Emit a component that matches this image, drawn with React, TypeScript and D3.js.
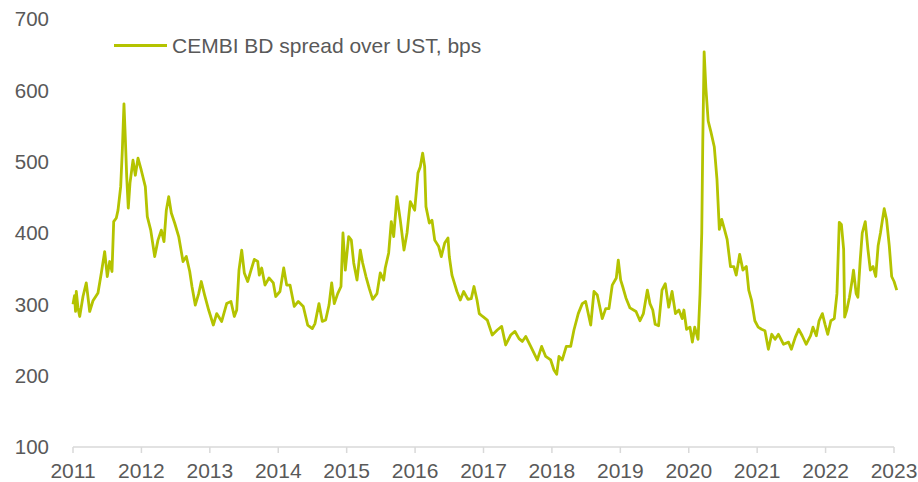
import * as d3 from 'd3'

// fractional years (2011.0 = start of 2011)
const dates = [
  2011.0, 2011.022, 2011.037, 2011.048, 2011.073, 2011.098, 2011.146, 2011.194, 2011.244, 2011.292,
  2011.365, 2011.414, 2011.463, 2011.501, 2011.536, 2011.57, 2011.595, 2011.633, 2011.658, 2011.697,
  2011.721, 2011.745, 2011.764, 2011.785, 2011.808, 2011.833, 2011.877, 2011.911, 2011.95, 2011.998,
  2012.057, 2012.086, 2012.136, 2012.194, 2012.242, 2012.291, 2012.33, 2012.364, 2012.399, 2012.437,
  2012.486, 2012.545, 2012.608, 2012.656, 2012.706, 2012.739, 2012.787, 2012.837, 2012.875, 2012.924,
  2012.983, 2013.051, 2013.1, 2013.173, 2013.246, 2013.309, 2013.358, 2013.393, 2013.426, 2013.466,
  2013.504, 2013.553, 2013.602, 2013.65, 2013.7, 2013.723, 2013.758, 2013.806, 2013.865, 2013.928,
  2013.963, 2014.025, 2014.08, 2014.123, 2014.172, 2014.234, 2014.293, 2014.366, 2014.43, 2014.498,
  2014.537, 2014.595, 2014.644, 2014.693, 2014.742, 2014.781, 2014.819, 2014.869, 2014.917, 2014.946,
  2014.98, 2015.029, 2015.068, 2015.103, 2015.151, 2015.199, 2015.234, 2015.282, 2015.331, 2015.38,
  2015.443, 2015.491, 2015.541, 2015.564, 2015.614, 2015.652, 2015.687, 2015.735, 2015.784, 2015.838,
  2015.882, 2015.93, 2015.994, 2016.042, 2016.076, 2016.111, 2016.14, 2016.159, 2016.208, 2016.247,
  2016.287, 2016.345, 2016.383, 2016.433, 2016.481, 2016.5, 2016.539, 2016.612, 2016.661, 2016.71,
  2016.773, 2016.821, 2016.861, 2016.905, 2016.938, 2016.988, 2017.055, 2017.128, 2017.201, 2017.266,
  2017.324, 2017.397, 2017.46, 2017.519, 2017.567, 2017.617, 2017.69, 2017.786, 2017.85, 2017.909,
  2017.982, 2018.03, 2018.07, 2018.103, 2018.151, 2018.21, 2018.274, 2018.322, 2018.385, 2018.444,
  2018.493, 2018.567, 2018.615, 2018.663, 2018.736, 2018.786, 2018.834, 2018.882, 2018.941, 2018.97,
  2019.005, 2019.034, 2019.082, 2019.141, 2019.229, 2019.287, 2019.337, 2019.395, 2019.433, 2019.474,
  2019.509, 2019.559, 2019.609, 2019.657, 2019.707, 2019.756, 2019.806, 2019.856, 2019.904, 2019.929,
  2019.968, 2020.018, 2020.053, 2020.087, 2020.136, 2020.165, 2020.19, 2020.205, 2020.225, 2020.25,
  2020.284, 2020.323, 2020.373, 2020.412, 2020.447, 2020.482, 2020.522, 2020.561, 2020.61, 2020.659,
  2020.694, 2020.744, 2020.792, 2020.842, 2020.877, 2020.917, 2020.966, 2021.015, 2021.064, 2021.114,
  2021.164, 2021.213, 2021.262, 2021.311, 2021.386, 2021.459, 2021.5, 2021.558, 2021.608, 2021.658,
  2021.716, 2021.781, 2021.816, 2021.865, 2021.905, 2021.953, 2021.992, 2022.032, 2022.077, 2022.127,
  2022.166, 2022.2, 2022.231, 2022.264, 2022.279, 2022.31, 2022.349, 2022.389, 2022.408, 2022.447,
  2022.472, 2022.507, 2022.536, 2022.58, 2022.619, 2022.654, 2022.694, 2022.733, 2022.768, 2022.802,
  2022.832, 2022.857, 2022.891, 2022.931, 2022.966, 2023.001, 2023.04,
]

const spread = [
  300, 312, 290, 318, 295, 283, 311, 330, 290, 305,
  316, 344, 374, 339, 360, 346, 416, 421, 432, 465,
  516, 581, 535, 479, 435, 470, 502, 481, 505, 488,
  465, 423, 404, 367, 390, 404, 388, 432, 451, 428,
  414, 395, 360, 367, 346, 325, 299, 315, 332, 313,
  292, 271, 287, 276, 301, 304, 283, 292, 348, 376,
  344, 332, 348, 363, 360, 341, 351, 327, 337, 330,
  311, 318, 351, 327, 327, 297, 304, 297, 271, 266,
  273, 301, 276, 278, 299, 330, 301, 315, 325, 400,
  348, 395, 390, 358, 334, 376, 358, 339, 322, 307,
  315, 344, 334, 351, 372, 416, 395, 451, 418, 376,
  400, 444, 432, 484, 493, 512, 493, 437, 414, 418,
  390, 381, 367, 386, 393, 367, 341, 318, 306, 318,
  307, 308, 325, 306, 287, 283, 278, 257, 264, 269,
  243, 257, 262, 252, 248, 255, 241, 222, 241, 227,
  222, 208, 202, 227, 222, 241, 241, 264, 287, 301,
  304, 271, 318, 313, 280, 294, 294, 327, 337, 362,
  334, 325, 309, 295, 290, 277, 287, 320, 301, 292,
  272, 270, 320, 329, 296, 318, 287, 292, 280, 292,
  265, 268, 247, 268, 251, 315, 400, 528, 654, 604,
  557, 542, 521, 476, 405, 419, 405, 391, 353, 353,
  341, 370, 348, 353, 320, 306, 277, 268, 265, 263,
  237, 258, 251, 258, 244, 247, 237, 254, 265, 256,
  244, 256, 268, 256, 277, 287, 272, 258, 277, 280,
  315, 415, 412, 377, 282, 292, 310, 334, 348, 315,
  310, 363, 400, 416, 377, 348, 353, 339, 382, 400,
  419, 434, 419, 382, 339, 332, 320,
]

const years = [2011, 2012, 2013, 2014, 2015, 2016, 2017, 2018, 2019, 2020, 2021, 2022, 2023]
const yTicks = [100, 200, 300, 400, 500, 600, 700]
const seriesName = 'CEMBI BD spread over UST, bps'

const W = 918
const H = 482
const lineColor = '#b4c300'
const textColor = '#595959'
const font = 'Liberation Sans, Arial, sans-serif'

export default function App() {
  const x = d3.scaleLinear().domain([2011, 2023]).range([73, 894])
  const y = d3.scaleLinear().domain([100, 700]).range([447, 19])

  const points = dates.map((d, i) => [d, spread[i]] as [number, number])
  const line = d3
    .line<[number, number]>()
    .x((d) => x(d[0]))
    .y((d) => y(d[1]))

  return (
    <svg
      width={W}
      height={H}
      style={{ position: 'absolute', left: 0, top: 0, background: '#fff' }}
      fontFamily={font}
    >
      {/* y labels, no gridlines */}
      {yTicks.map((t) => (
        <text key={t} x={49} y={y(t)} dy='0.36em' textAnchor='end' fontSize={20.5} fill={textColor}>
          {t}
        </text>
      ))}

      {/* x axis */}
      <line x1={x(2011)} x2={x(2023)} y1={y(100)} y2={y(100)} stroke='#d9d9d9' strokeWidth={1.5} />
      {years.map((yr) => (
        <g key={yr}>
          <line x1={x(yr)} x2={x(yr)} y1={y(100)} y2={y(100) + 6} stroke='#d9d9d9' strokeWidth={1.5} />
          <text x={x(yr)} y={y(100) + 31} textAnchor='middle' fontSize={21} fill={textColor}>
            {yr}
          </text>
        </g>
      ))}

      <path d={line(points) ?? ''} fill='none' stroke={lineColor} strokeWidth={2.8} strokeLinejoin='round' />

      {/* legend */}
      <line x1={114} x2={167} y1={45.5} y2={45.5} stroke={lineColor} strokeWidth={2.8} />
      <text x={172} y={45.5} dy='0.36em' fontSize={21} fill={textColor}>
        {seriesName}
      </text>
    </svg>
  )
}
